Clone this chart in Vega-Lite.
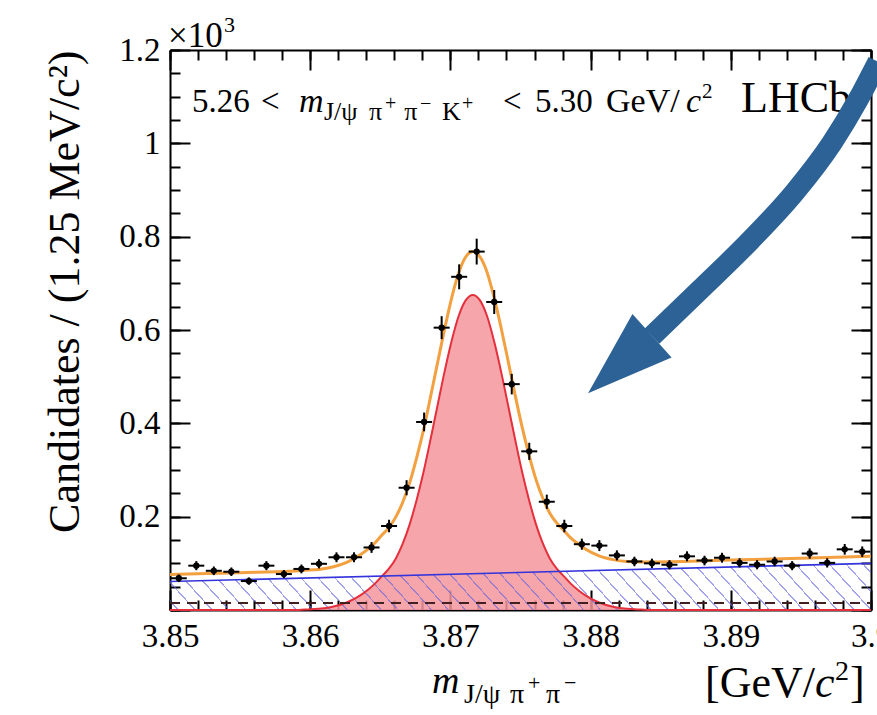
{
  "$schema": "https://vega.github.io/schema/vega-lite/v6.json",
  "width": 701,
  "height": 560,
  "autosize": {"type": "none"},
  "padding": {"left": 170, "top": 50, "right": 6, "bottom": 105},
  "background": "white",
  "config": {
    "view": {"stroke": null},
    "font": "Liberation Serif",
    "axis": {"grid": false, "domainColor": "black", "tickColor": "black", "labelColor": "black", "titleColor": "black", "labelFont": "Liberation Serif", "titleFont": "Liberation Serif"},
    "text": {"font": "Liberation Serif", "align": "left", "baseline": "alphabetic", "color": "black"}
  },
  "datasets": {
    "bins": [
      {"m": 3.850625, "n": 68, "err": 8.2},
      {"m": 3.851875, "n": 95, "err": 9.7},
      {"m": 3.853125, "n": 84, "err": 9.2},
      {"m": 3.854375, "n": 82, "err": 9.1},
      {"m": 3.855625, "n": 62, "err": 7.9},
      {"m": 3.856875, "n": 95, "err": 9.7},
      {"m": 3.858125, "n": 77, "err": 8.8},
      {"m": 3.859375, "n": 88, "err": 9.4},
      {"m": 3.860625, "n": 99, "err": 9.9},
      {"m": 3.861875, "n": 113, "err": 10.6},
      {"m": 3.863125, "n": 113, "err": 10.6},
      {"m": 3.864375, "n": 134, "err": 11.6},
      {"m": 3.865625, "n": 180, "err": 13.4},
      {"m": 3.866875, "n": 262, "err": 16.2},
      {"m": 3.868125, "n": 403, "err": 20.1},
      {"m": 3.869375, "n": 605, "err": 24.6},
      {"m": 3.870625, "n": 714, "err": 26.7},
      {"m": 3.871875, "n": 768, "err": 27.7},
      {"m": 3.873125, "n": 660, "err": 25.7},
      {"m": 3.874375, "n": 484, "err": 22.0},
      {"m": 3.875625, "n": 340, "err": 18.4},
      {"m": 3.876875, "n": 232, "err": 15.2},
      {"m": 3.878125, "n": 180, "err": 13.4},
      {"m": 3.879375, "n": 141, "err": 11.9},
      {"m": 3.880625, "n": 138, "err": 11.7},
      {"m": 3.881875, "n": 117, "err": 10.8},
      {"m": 3.883125, "n": 104, "err": 10.2},
      {"m": 3.884375, "n": 100, "err": 10.0},
      {"m": 3.885625, "n": 97, "err": 9.8},
      {"m": 3.886875, "n": 115, "err": 10.7},
      {"m": 3.888125, "n": 106, "err": 10.3},
      {"m": 3.889375, "n": 112, "err": 10.6},
      {"m": 3.890625, "n": 101, "err": 10.0},
      {"m": 3.891875, "n": 97, "err": 9.8},
      {"m": 3.893125, "n": 104, "err": 10.2},
      {"m": 3.894375, "n": 95, "err": 9.7},
      {"m": 3.895625, "n": 121, "err": 11.0},
      {"m": 3.896875, "n": 101, "err": 10.0},
      {"m": 3.898125, "n": 130, "err": 11.4},
      {"m": 3.899375, "n": 125, "err": 11.2}
    ],
    "fit": [
      {"m": 3.8500, "sig": 0, "tot": 76},
      {"m": 3.8550, "sig": 0, "tot": 80},
      {"m": 3.8586, "sig": 0, "tot": 83},
      {"m": 3.8596, "sig": 1, "tot": 85},
      {"m": 3.8606, "sig": 2.5, "tot": 87},
      {"m": 3.8616, "sig": 7, "tot": 92},
      {"m": 3.8626, "sig": 16, "tot": 102},
      {"m": 3.8636, "sig": 32, "tot": 119},
      {"m": 3.8641, "sig": 43, "tot": 130},
      {"m": 3.8646, "sig": 56, "tot": 143},
      {"m": 3.8651, "sig": 72, "tot": 160},
      {"m": 3.8656, "sig": 88, "tot": 176},
      {"m": 3.8661, "sig": 110, "tot": 199},
      {"m": 3.8666, "sig": 142, "tot": 231},
      {"m": 3.8671, "sig": 184, "tot": 273},
      {"m": 3.8676, "sig": 237, "tot": 327},
      {"m": 3.8681, "sig": 298, "tot": 388},
      {"m": 3.8686, "sig": 368, "tot": 459},
      {"m": 3.8691, "sig": 441, "tot": 532},
      {"m": 3.8696, "sig": 513, "tot": 604},
      {"m": 3.8701, "sig": 578, "tot": 670},
      {"m": 3.8706, "sig": 631, "tot": 723},
      {"m": 3.8711, "sig": 664, "tot": 757},
      {"m": 3.8716, "sig": 675, "tot": 768},
      {"m": 3.8721, "sig": 664, "tot": 757},
      {"m": 3.8726, "sig": 631, "tot": 725},
      {"m": 3.8731, "sig": 578, "tot": 672},
      {"m": 3.8736, "sig": 513, "tot": 607},
      {"m": 3.8741, "sig": 441, "tot": 536},
      {"m": 3.8746, "sig": 368, "tot": 463},
      {"m": 3.8751, "sig": 298, "tot": 394},
      {"m": 3.8756, "sig": 237, "tot": 333},
      {"m": 3.8761, "sig": 184, "tot": 280},
      {"m": 3.8766, "sig": 142, "tot": 239},
      {"m": 3.8771, "sig": 110, "tot": 207},
      {"m": 3.8776, "sig": 88, "tot": 186},
      {"m": 3.8781, "sig": 72, "tot": 170},
      {"m": 3.8786, "sig": 56, "tot": 154},
      {"m": 3.8791, "sig": 43, "tot": 142},
      {"m": 3.8796, "sig": 32, "tot": 131},
      {"m": 3.8806, "sig": 16, "tot": 116},
      {"m": 3.8816, "sig": 7, "tot": 108},
      {"m": 3.8826, "sig": 2.5, "tot": 104},
      {"m": 3.8836, "sig": 1, "tot": 103},
      {"m": 3.8846, "sig": 0, "tot": 103},
      {"m": 3.8900, "sig": 0, "tot": 107},
      {"m": 3.8950, "sig": 0, "tot": 111},
      {"m": 3.9000, "sig": 0, "tot": 115}
    ],
    "bkg": [
      {"m": 3.85, "bg": 61},
      {"m": 3.90, "bg": 100}
    ],
    "flat": [
      {"m": 3.85, "v": 15},
      {"m": 3.90, "v": 15}
    ],
    "arrow": [
      {"m": 3.88438, "v": 587},
      {"m": 3.88780, "v": 686},
      {"m": 3.89137, "v": 791},
      {"m": 3.89458, "v": 896},
      {"m": 3.89722, "v": 1001},
      {"m": 3.89907, "v": 1093},
      {"m": 3.90050, "v": 1175}
    ]
  },
  "resolve": {"axis": {"x": "independent", "y": "independent"}},
  "layer": [
    {
      "data": {"name": "fit"},
      "mark": {"type": "area", "color": "#f5969b", "opacity": 0.85, "interpolate": "monotone"},
      "encoding": {
        "x": {"field": "m", "type": "quantitative", "scale": {"domain": [3.85, 3.90], "nice": false, "zero": false}, "axis": null},
        "y": {"field": "sig", "type": "quantitative", "scale": {"domain": [0, 1200], "nice": false}, "axis": null}
      }
    },
    {
      "data": {"name": "bkg"},
      "mark": {
        "type": "area",
        "fill": {
          "gradient": "linear", "x1": 0, "y1": 1, "x2": 1.0566, "y2": 0.9362,
          "stops": [
            {"offset": 0, "color": "rgba(100,100,225,0)"},
            {"offset": 0.0100, "color": "rgba(100,100,225,0)"}, {"offset": 0.0100, "color": "rgba(100,100,225,0.6)"}, {"offset": 0.0123, "color": "rgba(100,100,225,0.6)"}, {"offset": 0.0123, "color": "rgba(100,100,225,0)"},
            {"offset": 0.0327, "color": "rgba(100,100,225,0)"}, {"offset": 0.0327, "color": "rgba(100,100,225,0.6)"}, {"offset": 0.0350, "color": "rgba(100,100,225,0.6)"}, {"offset": 0.0350, "color": "rgba(100,100,225,0)"},
            {"offset": 0.0555, "color": "rgba(100,100,225,0)"}, {"offset": 0.0555, "color": "rgba(100,100,225,0.6)"}, {"offset": 0.0578, "color": "rgba(100,100,225,0.6)"}, {"offset": 0.0578, "color": "rgba(100,100,225,0)"},
            {"offset": 0.0782, "color": "rgba(100,100,225,0)"}, {"offset": 0.0782, "color": "rgba(100,100,225,0.6)"}, {"offset": 0.0805, "color": "rgba(100,100,225,0.6)"}, {"offset": 0.0805, "color": "rgba(100,100,225,0)"},
            {"offset": 0.1009, "color": "rgba(100,100,225,0)"}, {"offset": 0.1009, "color": "rgba(100,100,225,0.6)"}, {"offset": 0.1032, "color": "rgba(100,100,225,0.6)"}, {"offset": 0.1032, "color": "rgba(100,100,225,0)"},
            {"offset": 0.1236, "color": "rgba(100,100,225,0)"}, {"offset": 0.1236, "color": "rgba(100,100,225,0.6)"}, {"offset": 0.1259, "color": "rgba(100,100,225,0.6)"}, {"offset": 0.1259, "color": "rgba(100,100,225,0)"},
            {"offset": 0.1464, "color": "rgba(100,100,225,0)"}, {"offset": 0.1464, "color": "rgba(100,100,225,0.6)"}, {"offset": 0.1487, "color": "rgba(100,100,225,0.6)"}, {"offset": 0.1487, "color": "rgba(100,100,225,0)"},
            {"offset": 0.1691, "color": "rgba(100,100,225,0)"}, {"offset": 0.1691, "color": "rgba(100,100,225,0.6)"}, {"offset": 0.1714, "color": "rgba(100,100,225,0.6)"}, {"offset": 0.1714, "color": "rgba(100,100,225,0)"},
            {"offset": 0.1918, "color": "rgba(100,100,225,0)"}, {"offset": 0.1918, "color": "rgba(100,100,225,0.6)"}, {"offset": 0.1941, "color": "rgba(100,100,225,0.6)"}, {"offset": 0.1941, "color": "rgba(100,100,225,0)"},
            {"offset": 0.2145, "color": "rgba(100,100,225,0)"}, {"offset": 0.2145, "color": "rgba(100,100,225,0.6)"}, {"offset": 0.2168, "color": "rgba(100,100,225,0.6)"}, {"offset": 0.2168, "color": "rgba(100,100,225,0)"},
            {"offset": 0.2373, "color": "rgba(100,100,225,0)"}, {"offset": 0.2373, "color": "rgba(100,100,225,0.6)"}, {"offset": 0.2396, "color": "rgba(100,100,225,0.6)"}, {"offset": 0.2396, "color": "rgba(100,100,225,0)"},
            {"offset": 0.2600, "color": "rgba(100,100,225,0)"}, {"offset": 0.2600, "color": "rgba(100,100,225,0.6)"}, {"offset": 0.2623, "color": "rgba(100,100,225,0.6)"}, {"offset": 0.2623, "color": "rgba(100,100,225,0)"},
            {"offset": 0.2827, "color": "rgba(100,100,225,0)"}, {"offset": 0.2827, "color": "rgba(100,100,225,0.6)"}, {"offset": 0.2850, "color": "rgba(100,100,225,0.6)"}, {"offset": 0.2850, "color": "rgba(100,100,225,0)"},
            {"offset": 0.3055, "color": "rgba(100,100,225,0)"}, {"offset": 0.3055, "color": "rgba(100,100,225,0.6)"}, {"offset": 0.3078, "color": "rgba(100,100,225,0.6)"}, {"offset": 0.3078, "color": "rgba(100,100,225,0)"},
            {"offset": 0.3282, "color": "rgba(100,100,225,0)"}, {"offset": 0.3282, "color": "rgba(100,100,225,0.6)"}, {"offset": 0.3305, "color": "rgba(100,100,225,0.6)"}, {"offset": 0.3305, "color": "rgba(100,100,225,0)"},
            {"offset": 0.3509, "color": "rgba(100,100,225,0)"}, {"offset": 0.3509, "color": "rgba(100,100,225,0.6)"}, {"offset": 0.3532, "color": "rgba(100,100,225,0.6)"}, {"offset": 0.3532, "color": "rgba(100,100,225,0)"},
            {"offset": 0.3736, "color": "rgba(100,100,225,0)"}, {"offset": 0.3736, "color": "rgba(100,100,225,0.6)"}, {"offset": 0.3759, "color": "rgba(100,100,225,0.6)"}, {"offset": 0.3759, "color": "rgba(100,100,225,0)"},
            {"offset": 0.3964, "color": "rgba(100,100,225,0)"}, {"offset": 0.3964, "color": "rgba(100,100,225,0.6)"}, {"offset": 0.3987, "color": "rgba(100,100,225,0.6)"}, {"offset": 0.3987, "color": "rgba(100,100,225,0)"},
            {"offset": 0.4191, "color": "rgba(100,100,225,0)"}, {"offset": 0.4191, "color": "rgba(100,100,225,0.6)"}, {"offset": 0.4214, "color": "rgba(100,100,225,0.6)"}, {"offset": 0.4214, "color": "rgba(100,100,225,0)"},
            {"offset": 0.4418, "color": "rgba(100,100,225,0)"}, {"offset": 0.4418, "color": "rgba(100,100,225,0.6)"}, {"offset": 0.4441, "color": "rgba(100,100,225,0.6)"}, {"offset": 0.4441, "color": "rgba(100,100,225,0)"},
            {"offset": 0.4645, "color": "rgba(100,100,225,0)"}, {"offset": 0.4645, "color": "rgba(100,100,225,0.6)"}, {"offset": 0.4668, "color": "rgba(100,100,225,0.6)"}, {"offset": 0.4668, "color": "rgba(100,100,225,0)"},
            {"offset": 0.4873, "color": "rgba(100,100,225,0)"}, {"offset": 0.4873, "color": "rgba(100,100,225,0.6)"}, {"offset": 0.4896, "color": "rgba(100,100,225,0.6)"}, {"offset": 0.4896, "color": "rgba(100,100,225,0)"},
            {"offset": 0.5100, "color": "rgba(100,100,225,0)"}, {"offset": 0.5100, "color": "rgba(100,100,225,0.6)"}, {"offset": 0.5123, "color": "rgba(100,100,225,0.6)"}, {"offset": 0.5123, "color": "rgba(100,100,225,0)"},
            {"offset": 0.5327, "color": "rgba(100,100,225,0)"}, {"offset": 0.5327, "color": "rgba(100,100,225,0.6)"}, {"offset": 0.5350, "color": "rgba(100,100,225,0.6)"}, {"offset": 0.5350, "color": "rgba(100,100,225,0)"},
            {"offset": 0.5555, "color": "rgba(100,100,225,0)"}, {"offset": 0.5555, "color": "rgba(100,100,225,0.6)"}, {"offset": 0.5578, "color": "rgba(100,100,225,0.6)"}, {"offset": 0.5578, "color": "rgba(100,100,225,0)"},
            {"offset": 0.5782, "color": "rgba(100,100,225,0)"}, {"offset": 0.5782, "color": "rgba(100,100,225,0.6)"}, {"offset": 0.5805, "color": "rgba(100,100,225,0.6)"}, {"offset": 0.5805, "color": "rgba(100,100,225,0)"},
            {"offset": 0.6009, "color": "rgba(100,100,225,0)"}, {"offset": 0.6009, "color": "rgba(100,100,225,0.6)"}, {"offset": 0.6032, "color": "rgba(100,100,225,0.6)"}, {"offset": 0.6032, "color": "rgba(100,100,225,0)"},
            {"offset": 0.6236, "color": "rgba(100,100,225,0)"}, {"offset": 0.6236, "color": "rgba(100,100,225,0.6)"}, {"offset": 0.6259, "color": "rgba(100,100,225,0.6)"}, {"offset": 0.6259, "color": "rgba(100,100,225,0)"},
            {"offset": 0.6464, "color": "rgba(100,100,225,0)"}, {"offset": 0.6464, "color": "rgba(100,100,225,0.6)"}, {"offset": 0.6487, "color": "rgba(100,100,225,0.6)"}, {"offset": 0.6487, "color": "rgba(100,100,225,0)"},
            {"offset": 0.6691, "color": "rgba(100,100,225,0)"}, {"offset": 0.6691, "color": "rgba(100,100,225,0.6)"}, {"offset": 0.6714, "color": "rgba(100,100,225,0.6)"}, {"offset": 0.6714, "color": "rgba(100,100,225,0)"},
            {"offset": 0.6918, "color": "rgba(100,100,225,0)"}, {"offset": 0.6918, "color": "rgba(100,100,225,0.6)"}, {"offset": 0.6941, "color": "rgba(100,100,225,0.6)"}, {"offset": 0.6941, "color": "rgba(100,100,225,0)"},
            {"offset": 0.7145, "color": "rgba(100,100,225,0)"}, {"offset": 0.7145, "color": "rgba(100,100,225,0.6)"}, {"offset": 0.7168, "color": "rgba(100,100,225,0.6)"}, {"offset": 0.7168, "color": "rgba(100,100,225,0)"},
            {"offset": 0.7373, "color": "rgba(100,100,225,0)"}, {"offset": 0.7373, "color": "rgba(100,100,225,0.6)"}, {"offset": 0.7396, "color": "rgba(100,100,225,0.6)"}, {"offset": 0.7396, "color": "rgba(100,100,225,0)"},
            {"offset": 0.7600, "color": "rgba(100,100,225,0)"}, {"offset": 0.7600, "color": "rgba(100,100,225,0.6)"}, {"offset": 0.7623, "color": "rgba(100,100,225,0.6)"}, {"offset": 0.7623, "color": "rgba(100,100,225,0)"},
            {"offset": 0.7827, "color": "rgba(100,100,225,0)"}, {"offset": 0.7827, "color": "rgba(100,100,225,0.6)"}, {"offset": 0.7850, "color": "rgba(100,100,225,0.6)"}, {"offset": 0.7850, "color": "rgba(100,100,225,0)"},
            {"offset": 0.8055, "color": "rgba(100,100,225,0)"}, {"offset": 0.8055, "color": "rgba(100,100,225,0.6)"}, {"offset": 0.8078, "color": "rgba(100,100,225,0.6)"}, {"offset": 0.8078, "color": "rgba(100,100,225,0)"},
            {"offset": 0.8282, "color": "rgba(100,100,225,0)"}, {"offset": 0.8282, "color": "rgba(100,100,225,0.6)"}, {"offset": 0.8305, "color": "rgba(100,100,225,0.6)"}, {"offset": 0.8305, "color": "rgba(100,100,225,0)"},
            {"offset": 0.8509, "color": "rgba(100,100,225,0)"}, {"offset": 0.8509, "color": "rgba(100,100,225,0.6)"}, {"offset": 0.8532, "color": "rgba(100,100,225,0.6)"}, {"offset": 0.8532, "color": "rgba(100,100,225,0)"},
            {"offset": 0.8736, "color": "rgba(100,100,225,0)"}, {"offset": 0.8736, "color": "rgba(100,100,225,0.6)"}, {"offset": 0.8759, "color": "rgba(100,100,225,0.6)"}, {"offset": 0.8759, "color": "rgba(100,100,225,0)"},
            {"offset": 0.8964, "color": "rgba(100,100,225,0)"}, {"offset": 0.8964, "color": "rgba(100,100,225,0.6)"}, {"offset": 0.8987, "color": "rgba(100,100,225,0.6)"}, {"offset": 0.8987, "color": "rgba(100,100,225,0)"},
            {"offset": 0.9191, "color": "rgba(100,100,225,0)"}, {"offset": 0.9191, "color": "rgba(100,100,225,0.6)"}, {"offset": 0.9214, "color": "rgba(100,100,225,0.6)"}, {"offset": 0.9214, "color": "rgba(100,100,225,0)"},
            {"offset": 0.9418, "color": "rgba(100,100,225,0)"}, {"offset": 0.9418, "color": "rgba(100,100,225,0.6)"}, {"offset": 0.9441, "color": "rgba(100,100,225,0.6)"}, {"offset": 0.9441, "color": "rgba(100,100,225,0)"},
            {"offset": 0.9645, "color": "rgba(100,100,225,0)"}, {"offset": 0.9645, "color": "rgba(100,100,225,0.6)"}, {"offset": 0.9668, "color": "rgba(100,100,225,0.6)"}, {"offset": 0.9668, "color": "rgba(100,100,225,0)"},
            {"offset": 0.9873, "color": "rgba(100,100,225,0)"}, {"offset": 0.9873, "color": "rgba(100,100,225,0.6)"}, {"offset": 0.9896, "color": "rgba(100,100,225,0.6)"}, {"offset": 0.9896, "color": "rgba(100,100,225,0)"},
            {"offset": 1, "color": "rgba(100,100,225,0)"}
          ]
        }
      },
      "encoding": {
        "x": {"field": "m", "type": "quantitative", "axis": null},
        "y": {"field": "bg", "type": "quantitative", "axis": null}
      }
    },
    {
      "data": {"name": "fit"},
      "mark": {"type": "line", "color": "#e4303c", "strokeWidth": 2, "interpolate": "monotone"},
      "encoding": {
        "x": {
          "field": "m", "type": "quantitative",
          "scale": {"domain": [3.85, 3.90], "nice": false, "zero": false},
          "axis": {"orient": "bottom", "values": [3.85, 3.86, 3.87, 3.88, 3.89, 3.9], "ticks": false, "domain": true, "domainWidth": 2, "labelFontSize": 33, "labelPadding": 10, "labelFlush": false, "labelOverlap": false, "labelBound": false, "labelExpr": "format(datum.value, '~g')", "title": null}
        },
        "y": {
          "field": "sig", "type": "quantitative",
          "scale": {"domain": [0, 1200], "nice": false},
          "axis": {"orient": "left", "values": [0, 200, 400, 600, 800, 1000, 1200], "ticks": false, "domain": true, "domainWidth": 2, "labelFontSize": 33, "labelPadding": 10, "labelFlush": false, "labelOverlap": false, "labelBound": false, "labelExpr": "datum.value == 0 ? '' : '' + datum.value / 1000", "title": "Candidates / (1.25 MeV/c²)", "titleFontSize": 44, "titleFontWeight": "normal", "titleAnchor": "end", "titlePadding": 31}
        }
      }
    },
    {
      "data": {"name": "bkg"},
      "mark": {"type": "line", "color": "#3434dc", "strokeWidth": 1.6},
      "encoding": {
        "x": {"field": "m", "type": "quantitative", "axis": {"orient": "bottom", "values": [3.85, 3.86, 3.87, 3.88, 3.89, 3.9], "labels": false, "domain": false, "tickSize": -20, "tickWidth": 2, "title": null}},
        "y": {"field": "bg", "type": "quantitative", "axis": {"orient": "left", "values": [0, 200, 400, 600, 800, 1000, 1200], "labels": false, "domain": false, "tickSize": -20, "tickWidth": 2, "title": null}}
      }
    },
    {
      "data": {"name": "flat"},
      "mark": {"type": "line", "color": "#402020", "strokeWidth": 2, "strokeDash": [10, 7]},
      "encoding": {
        "x": {"field": "m", "type": "quantitative", "axis": {"orient": "bottom", "values": [3.85, 3.852, 3.854, 3.856, 3.858, 3.86, 3.862, 3.864, 3.866, 3.868, 3.87, 3.872, 3.874, 3.876, 3.878, 3.88, 3.882, 3.884, 3.886, 3.888, 3.89, 3.892, 3.894, 3.896, 3.898, 3.9], "labels": false, "domain": false, "tickSize": -10, "tickWidth": 2, "title": null}},
        "y": {"field": "v", "type": "quantitative", "axis": {"orient": "left", "values": [0, 50, 100, 150, 200, 250, 300, 350, 400, 450, 500, 550, 600, 650, 700, 750, 800, 850, 900, 950, 1000, 1050, 1100, 1150, 1200], "labels": false, "domain": false, "tickSize": -10, "tickWidth": 2, "title": null}}
      }
    },
    {
      "data": {"name": "fit"},
      "mark": {"type": "line", "color": "#f2a040", "strokeWidth": 3, "interpolate": "monotone"},
      "encoding": {
        "x": {"field": "m", "type": "quantitative", "axis": {"orient": "top", "values": [3.85, 3.86, 3.87, 3.88, 3.89, 3.9], "labels": false, "domain": true, "domainWidth": 2, "tickSize": -20, "tickWidth": 2, "title": null}},
        "y": {"field": "tot", "type": "quantitative", "axis": {"orient": "right", "values": [0, 200, 400, 600, 800, 1000, 1200], "labels": false, "domain": true, "domainWidth": 2, "tickSize": -20, "tickWidth": 2, "title": null}}
      }
    },
    {
      "data": {"name": "bins"},
      "mark": {"type": "errorbar", "ticks": false, "thickness": 2, "color": "black"},
      "encoding": {
        "x": {"field": "m", "type": "quantitative", "axis": null},
        "y": {"field": "n", "type": "quantitative", "axis": null},
        "yError": {"field": "err"}
      }
    },
    {
      "data": {"name": "bins"},
      "mark": {"type": "tick", "orient": "horizontal", "color": "black", "thickness": 2, "size": 16, "opacity": 1},
      "encoding": {
        "x": {"field": "m", "type": "quantitative", "axis": null},
        "y": {"field": "n", "type": "quantitative", "axis": null}
      }
    },
    {
      "data": {"name": "bins"},
      "mark": {"type": "point", "filled": true, "shape": "circle", "size": 40, "color": "black", "opacity": 1},
      "encoding": {
        "x": {"field": "m", "type": "quantitative", "axis": {"orient": "top", "values": [3.85, 3.852, 3.854, 3.856, 3.858, 3.86, 3.862, 3.864, 3.866, 3.868, 3.87, 3.872, 3.874, 3.876, 3.878, 3.88, 3.882, 3.884, 3.886, 3.888, 3.89, 3.892, 3.894, 3.896, 3.898, 3.9], "labels": false, "domain": false, "tickSize": -10, "tickWidth": 2, "title": null}},
        "y": {"field": "n", "type": "quantitative", "axis": {"orient": "right", "values": [0, 50, 100, 150, 200, 250, 300, 350, 400, 450, 500, 550, 600, 650, 700, 750, 800, 850, 900, 950, 1000, 1050, 1100, 1150, 1200], "labels": false, "domain": false, "tickSize": -10, "tickWidth": 2, "title": null}}
      }
    },
    {
      "data": {"values": [{}]},
      "mark": {"type": "text", "text": "×10", "fontSize": 35},
      "encoding": {"x": {"datum": 3.84986, "type": "quantitative", "axis": null}, "y": {"datum": 1207, "type": "quantitative", "axis": null}}
    },
    {
      "data": {"values": [{}]},
      "mark": {"type": "text", "text": "3", "fontSize": 22},
      "encoding": {"x": {"datum": 3.85385, "type": "quantitative", "axis": null}, "y": {"datum": 1239, "type": "quantitative", "axis": null}}
    },
    {
      "data": {"values": [{}]},
      "mark": {"type": "text", "text": "5.26", "fontSize": 33},
      "encoding": {"x": {"datum": 3.85157, "type": "quantitative", "axis": null}, "y": {"datum": 1067, "type": "quantitative", "axis": null}}
    },
    {
      "data": {"values": [{}]},
      "mark": {"type": "text", "text": "<", "fontSize": 33},
      "encoding": {"x": {"datum": 3.85649, "type": "quantitative", "axis": null}, "y": {"datum": 1067, "type": "quantitative", "axis": null}}
    },
    {
      "data": {"values": [{}]},
      "mark": {"type": "text", "text": "m", "fontStyle": "italic", "fontSize": 34},
      "encoding": {"x": {"datum": 3.85920, "type": "quantitative", "axis": null}, "y": {"datum": 1067, "type": "quantitative", "axis": null}}
    },
    {
      "data": {"values": [{}]},
      "mark": {"type": "text", "text": "J/ψ", "fontSize": 26},
      "encoding": {"x": {"datum": 3.86098, "type": "quantitative", "axis": null}, "y": {"datum": 1050, "type": "quantitative", "axis": null}}
    },
    {
      "data": {"values": [{}]},
      "mark": {"type": "text", "text": "π", "fontSize": 26},
      "encoding": {"x": {"datum": 3.86420, "type": "quantitative", "axis": null}, "y": {"datum": 1050, "type": "quantitative", "axis": null}}
    },
    {
      "data": {"values": [{}]},
      "mark": {"type": "text", "text": "+", "fontSize": 20},
      "encoding": {"x": {"datum": 3.86534, "type": "quantitative", "axis": null}, "y": {"datum": 1072, "type": "quantitative", "axis": null}}
    },
    {
      "data": {"values": [{}]},
      "mark": {"type": "text", "text": "π", "fontSize": 26},
      "encoding": {"x": {"datum": 3.86670, "type": "quantitative", "axis": null}, "y": {"datum": 1050, "type": "quantitative", "axis": null}}
    },
    {
      "data": {"values": [{}]},
      "mark": {"type": "text", "text": "−", "fontSize": 20},
      "encoding": {"x": {"datum": 3.86784, "type": "quantitative", "axis": null}, "y": {"datum": 1072, "type": "quantitative", "axis": null}}
    },
    {
      "data": {"values": [{}]},
      "mark": {"type": "text", "text": "K", "fontSize": 26},
      "encoding": {"x": {"datum": 3.86940, "type": "quantitative", "axis": null}, "y": {"datum": 1050, "type": "quantitative", "axis": null}}
    },
    {
      "data": {"values": [{}]},
      "mark": {"type": "text", "text": "+", "fontSize": 20},
      "encoding": {"x": {"datum": 3.87083, "type": "quantitative", "axis": null}, "y": {"datum": 1072, "type": "quantitative", "axis": null}}
    },
    {
      "data": {"values": [{}]},
      "mark": {"type": "text", "text": "<", "fontSize": 33},
      "encoding": {"x": {"datum": 3.87375, "type": "quantitative", "axis": null}, "y": {"datum": 1067, "type": "quantitative", "axis": null}}
    },
    {
      "data": {"values": [{}]},
      "mark": {"type": "text", "text": "5.30", "fontSize": 33},
      "encoding": {"x": {"datum": 3.87603, "type": "quantitative", "axis": null}, "y": {"datum": 1067, "type": "quantitative", "axis": null}}
    },
    {
      "data": {"values": [{}]},
      "mark": {"type": "text", "text": "GeV/", "fontSize": 34},
      "encoding": {"x": {"datum": 3.88110, "type": "quantitative", "axis": null}, "y": {"datum": 1067, "type": "quantitative", "axis": null}}
    },
    {
      "data": {"values": [{}]},
      "mark": {"type": "text", "text": "c", "fontStyle": "italic", "fontSize": 34},
      "encoding": {"x": {"datum": 3.88680, "type": "quantitative", "axis": null}, "y": {"datum": 1067, "type": "quantitative", "axis": null}}
    },
    {
      "data": {"values": [{}]},
      "mark": {"type": "text", "text": "2", "fontSize": 21},
      "encoding": {"x": {"datum": 3.88795, "type": "quantitative", "axis": null}, "y": {"datum": 1097, "type": "quantitative", "axis": null}}
    },
    {
      "data": {"values": [{}]},
      "mark": {"type": "text", "text": "LHCb", "fontSize": 44},
      "encoding": {"x": {"datum": 3.89073, "type": "quantitative", "axis": null}, "y": {"datum": 1067, "type": "quantitative", "axis": null}}
    },
    {
      "data": {"values": [{}]},
      "mark": {"type": "text", "text": "m", "fontStyle": "italic", "fontSize": 38},
      "encoding": {"x": {"datum": 3.86869, "type": "quantitative", "axis": null}, "y": {"datum": -178, "type": "quantitative", "axis": null}}
    },
    {
      "data": {"values": [{}]},
      "mark": {"type": "text", "text": "J/ψ", "fontSize": 28},
      "encoding": {"x": {"datum": 3.87097, "type": "quantitative", "axis": null}, "y": {"datum": -199, "type": "quantitative", "axis": null}}
    },
    {
      "data": {"values": [{}]},
      "mark": {"type": "text", "text": "π", "fontSize": 28},
      "encoding": {"x": {"datum": 3.87425, "type": "quantitative", "axis": null}, "y": {"datum": -199, "type": "quantitative", "axis": null}}
    },
    {
      "data": {"values": [{}]},
      "mark": {"type": "text", "text": "+", "fontSize": 22},
      "encoding": {"x": {"datum": 3.87554, "type": "quantitative", "axis": null}, "y": {"datum": -171, "type": "quantitative", "axis": null}}
    },
    {
      "data": {"values": [{}]},
      "mark": {"type": "text", "text": "π", "fontSize": 28},
      "encoding": {"x": {"datum": 3.87682, "type": "quantitative", "axis": null}, "y": {"datum": -199, "type": "quantitative", "axis": null}}
    },
    {
      "data": {"values": [{}]},
      "mark": {"type": "text", "text": "−", "fontSize": 22},
      "encoding": {"x": {"datum": 3.87811, "type": "quantitative", "axis": null}, "y": {"datum": -171, "type": "quantitative", "axis": null}}
    },
    {
      "data": {"values": [{}]},
      "mark": {"type": "text", "text": "[GeV/", "fontSize": 44},
      "encoding": {"x": {"datum": 3.88816, "type": "quantitative", "axis": null}, "y": {"datum": -186, "type": "quantitative", "axis": null}}
    },
    {
      "data": {"values": [{}]},
      "mark": {"type": "text", "text": "c", "fontStyle": "italic", "fontSize": 44},
      "encoding": {"x": {"datum": 3.89601, "type": "quantitative", "axis": null}, "y": {"datum": -186, "type": "quantitative", "axis": null}}
    },
    {
      "data": {"values": [{}]},
      "mark": {"type": "text", "text": "2", "fontSize": 28},
      "encoding": {"x": {"datum": 3.89743, "type": "quantitative", "axis": null}, "y": {"datum": -150, "type": "quantitative", "axis": null}}
    },
    {
      "data": {"values": [{}]},
      "mark": {"type": "text", "text": "]", "fontSize": 44},
      "encoding": {"x": {"datum": 3.89850, "type": "quantitative", "axis": null}, "y": {"datum": -186, "type": "quantitative", "axis": null}}
    },
    {
      "data": {"name": "arrow"},
      "mark": {"type": "line", "color": "#2c6295", "strokeWidth": 21, "strokeCap": "butt", "interpolate": "monotone"},
      "encoding": {
        "x": {"field": "m", "type": "quantitative", "axis": null},
        "y": {"field": "v", "type": "quantitative", "axis": null}
      }
    },
    {
      "data": {"values": [{}]},
      "mark": {"type": "point", "shape": "M0,-1L0.68,1L-0.68,1Z", "filled": true, "color": "#2c6295", "opacity": 1, "size": 7400, "angle": 228},
      "encoding": {
        "x": {"datum": 3.8821, "type": "quantitative", "axis": null},
        "y": {"datum": 526, "type": "quantitative", "axis": null}
      }
    }
  ]
}
